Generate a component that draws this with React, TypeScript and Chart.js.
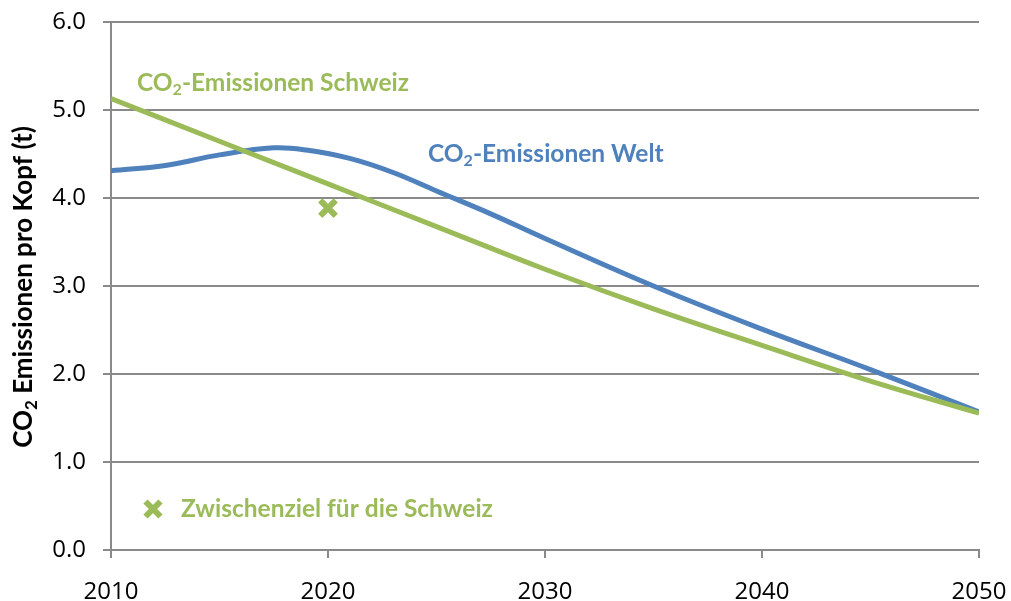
import React, { useEffect, useRef } from "react";
import { Chart, registerables } from "chart.js";

Chart.register(...registerables);

// ---- Data ----
const schweizYears = [2010, 2015, 2020, 2025, 2030, 2035, 2040, 2045, 2050];
const schweizValues = [5.13, 4.645, 4.16, 3.675, 3.19, 2.74, 2.325, 1.92, 1.555];

const weltYears = [2010, 2012.5, 2015, 2017.5, 2019, 2021, 2023, 2025, 2027.5, 2030, 2035, 2040, 2045, 2050];
const weltValues = [4.31, 4.37, 4.49, 4.57, 4.545, 4.45, 4.29, 4.08, 3.82, 3.54, 3.0, 2.51, 2.05, 1.57];

const zielYears = [2020];
const zielValues = [3.886];

const xTickValues = [2010, 2020, 2030, 2040, 2050];
const yTickValues = [0, 1, 2, 3, 4, 5, 6];

const labelSchweiz = ["CO", "2", "-Emissionen Schweiz"];
const labelWelt = ["CO", "2", "-Emissionen Welt"];
const labelZiel = "Zwischenziel für die Schweiz";
const yTitle = ["CO", "2", " Emissionen pro Kopf (t)"];

const GREEN = "#9BBB59";
const BLUE = "#4F81BD";
const GRID = "#8a8a8a";
const FONT = "Lato";
const TICK_FONT = "'Open Sans'";

type Part = { t: string; sub?: boolean };

function partsOf(arr: string[]): Part[] {
  return [{ t: arr[0] }, { t: arr[1], sub: true }, { t: arr[2] }];
}

function drawRich(
  ctx: CanvasRenderingContext2D,
  parts: Part[],
  x: number,
  y: number,
  size: number,
  color: string,
  align: "left" | "center"
) {
  const main = `bold ${size}px ${FONT}`;
  const subSize = Math.round(size * 0.65);
  const sub = `bold ${subSize}px ${FONT}`;
  let total = 0;
  for (const p of parts) {
    ctx.font = p.sub ? sub : main;
    total += ctx.measureText(p.t).width;
  }
  let cx = align === "center" ? x - total / 2 : x;
  ctx.fillStyle = color;
  ctx.textBaseline = "alphabetic";
  ctx.textAlign = "left";
  for (const p of parts) {
    ctx.font = p.sub ? sub : main;
    ctx.fillText(p.t, cx, p.sub ? y + size * 0.18 : y);
    cx += ctx.measureText(p.t).width;
  }
}

const annotations = {
  id: "annotations",
  afterDraw(chart: any) {
    const ctx: CanvasRenderingContext2D = chart.ctx;
    ctx.save();
    // series labels
    drawRich(ctx, partsOf(labelSchweiz), 137, 90.5, 24.5, GREEN, "left");
    drawRich(ctx, partsOf(labelWelt), 428, 161.5, 24.5, BLUE, "left");

    // legend marker + text
    const mx = 153, my = 509, h = 7.5;
    ctx.strokeStyle = GREEN;
    ctx.lineWidth = 6;
    ctx.beginPath();
    ctx.moveTo(mx - h, my - h);
    ctx.lineTo(mx + h, my + h);
    ctx.moveTo(mx + h, my - h);
    ctx.lineTo(mx - h, my + h);
    ctx.stroke();
    ctx.fillStyle = GREEN;
    ctx.font = `bold 24.5px ${FONT}`;
    ctx.textAlign = "left";
    ctx.textBaseline = "alphabetic";
    ctx.fillText(labelZiel, 181, 517);

    // y axis title
    ctx.translate(32, 287);
    ctx.rotate(-Math.PI / 2);
    drawRich(ctx, partsOf(yTitle), 0, 0, 26, "#000000", "center");
    ctx.restore();
  },
};

export default function App() {
  const ref = useRef<HTMLCanvasElement>(null);
  useEffect(() => {
    if (!ref.current) return;
    const chart = new Chart(ref.current, {
      type: "line",
      data: {
        datasets: [
          {
            label: "Zwischenziel",
            data: zielYears.map((x, i) => ({ x, y: zielValues[i] })),
            showLine: false,
            pointStyle: "crossRot",
            pointRadius: 11,
            pointBorderWidth: 6,
            pointBorderColor: GREEN,
            pointBackgroundColor: GREEN,
            borderColor: GREEN,
          },
          {
            label: "Schweiz",
            data: schweizYears.map((x, i) => ({ x, y: schweizValues[i] })),
            borderColor: GREEN,
            borderWidth: 5,
            pointRadius: 0,
            tension: 0.4,
          },
          {
            label: "Welt",
            data: weltYears.map((x, i) => ({ x, y: weltValues[i] })),
            borderColor: BLUE,
            borderWidth: 5,
            pointRadius: 0,
            tension: 0.4,
          },
        ],
      },
      options: {
        animation: false,
        responsive: false,
        events: [],
        layout: { padding: { left: 0, right: 32, top: 22, bottom: 0 } },
        plugins: { legend: { display: false }, tooltip: { enabled: false } },
        scales: {
          x: {
            type: "linear",
            min: 2010,
            max: 2050,
            afterBuildTicks: (s: any) => {
              s.ticks = xTickValues.map((v) => ({ value: v }));
            },
            ticks: {
              callback: (v: any) => String(v),
              color: "#000",
              font: { family: TICK_FONT, size: 24 },
              padding: 20,
              maxRotation: 0,
            },
            grid: { drawOnChartArea: false, drawTicks: true, tickLength: 8, color: GRID, lineWidth: 2 },
            border: { display: true, color: GRID, width: 2 },
            afterFit: (s: any) => {
              s.height = 51;
              s.paddingLeft = 0;
              s.paddingRight = 0;
              s.paddingTop = 0;
              s.paddingBottom = 0;
            },
          },
          y: {
            type: "linear",
            min: 0,
            max: 6,
            afterBuildTicks: (s: any) => {
              s.ticks = yTickValues.map((v) => ({ value: v }));
            },
            ticks: {
              callback: (v: any) => Number(v).toFixed(1),
              color: "#000",
              font: { family: TICK_FONT, size: 24 },
              padding: 17,
            },
            grid: { drawOnChartArea: true, drawTicks: true, tickLength: 8, color: GRID, lineWidth: 2 },
            border: { display: true, color: GRID, width: 2 },
            afterFit: (s: any) => {
              s.width = 111;
              s.paddingLeft = 0;
              s.paddingRight = 0;
              s.paddingTop = 0;
              s.paddingBottom = 0;
            },
          },
        },
      },
      plugins: [annotations],
    });
    return () => chart.destroy();
  }, []);
  return (
    <div style={{ position: "absolute", left: 0, top: 0, width: 1011, height: 601, background: "#fff" }}>
      <canvas ref={ref} width={1011} height={601} />
    </div>
  );
}
